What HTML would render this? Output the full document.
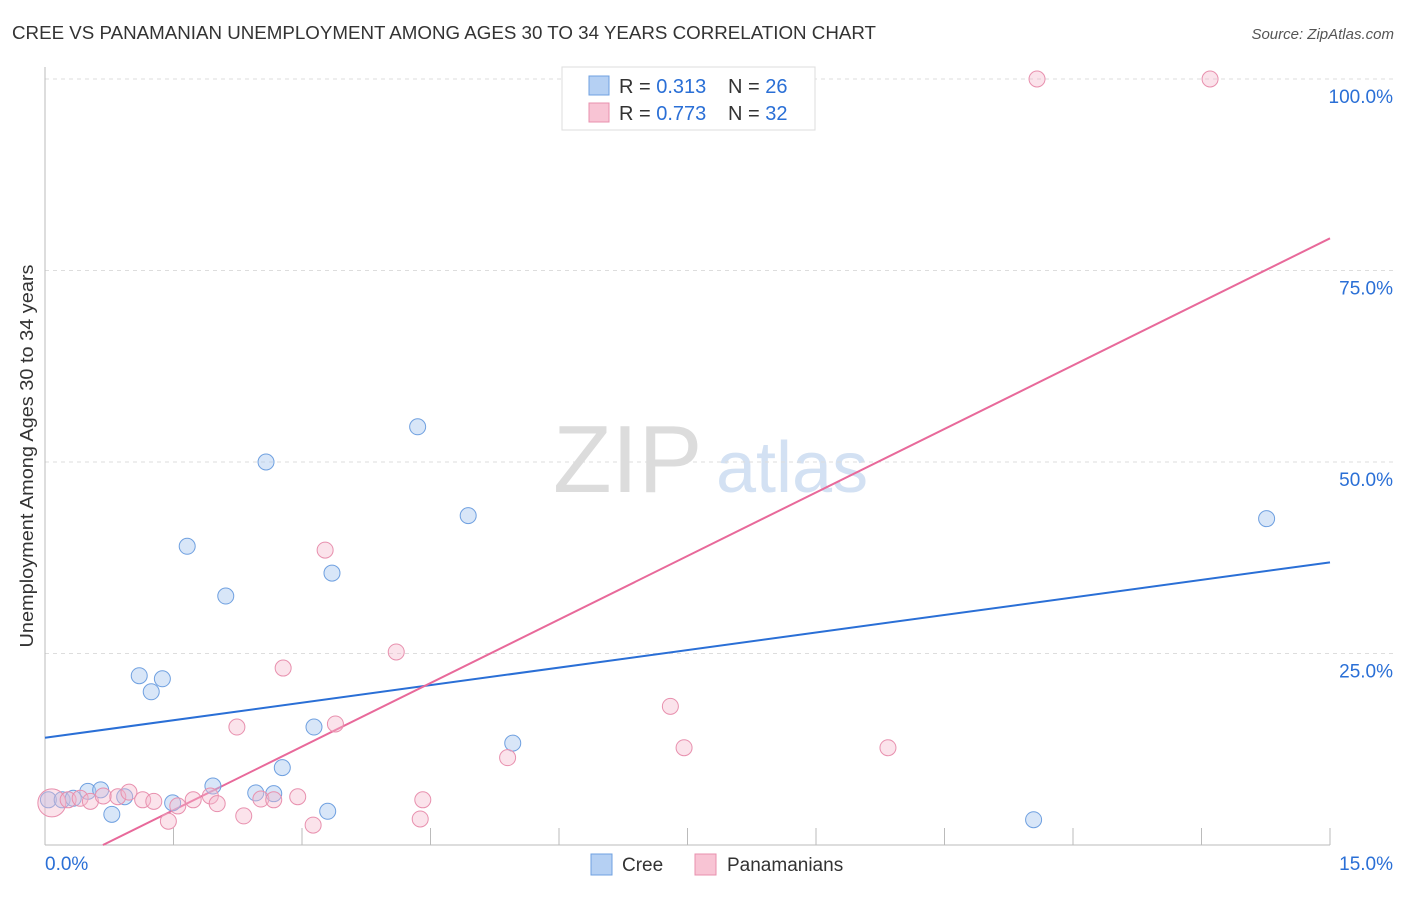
<!DOCTYPE html>
<html><head><meta charset="utf-8"><style>
body{margin:0;background:#fff;font-family:"Liberation Sans",sans-serif;}
svg text{font-family:"Liberation Sans",sans-serif;}
</style></head><body>
<svg id="chart" width="1406" height="892" xmlns="http://www.w3.org/2000/svg">
<text x="12" y="39" font-size="18" fill="#333" textLength="864" lengthAdjust="spacingAndGlyphs">CREE VS PANAMANIAN UNEMPLOYMENT AMONG AGES 30 TO 34 YEARS CORRELATION CHART</text>
<text x="1394" y="39" font-size="15" fill="#555" font-style="italic" text-anchor="end">Source: ZipAtlas.com</text>
<g>
<text x="553" y="492" font-size="96" fill="#dcdcdc" font-family="Liberation Serif,serif">ZIP</text>
<text x="716" y="492" font-size="72" fill="#d3e1f3">atlas</text>
</g>
<g id="grid"></g>
<g id="axes"></g>
<g id="lines"></g>
<g id="points"></g>
<text transform="translate(33,456) rotate(-90)" font-size="18" fill="#333" text-anchor="middle" textLength="383" lengthAdjust="spacingAndGlyphs">Unemployment Among Ages 30 to 34 years</text>
<g>
<rect x="562" y="67" width="253" height="63" fill="#fff" stroke="#ddd"/>
<rect x="589" y="76" width="20" height="19" fill="#b5d0f3" stroke="#6fa0e0"/>
<rect x="589" y="103" width="20" height="19" fill="#f8c4d4" stroke="#e890ae"/>
<text x="619" y="93" font-size="20" fill="#333">R = <tspan fill="#2a6fd6">0.313</tspan><tspan x="728">N = </tspan><tspan fill="#2a6fd6">26</tspan></text>
<text x="619" y="120" font-size="20" fill="#333">R = <tspan fill="#2a6fd6">0.773</tspan><tspan x="728">N = </tspan><tspan fill="#2a6fd6">32</tspan></text>
</g>
<g>
<rect x="591" y="854" width="21" height="21" fill="#b5d0f3" stroke="#6fa0e0"/>
<text x="622" y="871" font-size="19" fill="#333">Cree</text>
<rect x="695" y="854" width="21" height="21" fill="#f8c4d4" stroke="#e890ae"/>
<text x="727" y="871" font-size="19" fill="#333">Panamanians</text>
</g>
</svg>
<script>
const yTicks=[25,50,75,100];
const yTickLabels=["25.0%","50.0%","75.0%","100.0%"];
const xTicks=[0,1.5,3,4.5,6,7.5,9,10.5,12,13.5,15];
const creeX=[0.04,0.20,0.33,0.50,0.65,0.78,0.93,1.10,1.24,1.37,1.49,1.66,1.96,2.11,2.46,2.58,2.67,2.77,3.14,3.30,3.35,4.35,4.94,5.46,11.54,14.26];
const creeY=[5.9,5.9,6.1,7.0,7.2,4.0,6.3,22.1,20.0,21.7,5.5,39.0,7.7,32.5,6.8,50.0,6.7,10.1,15.4,4.4,35.5,54.6,43.0,13.3,3.3,42.6];
const panX=[0.08,0.27,0.41,0.53,0.68,0.85,0.98,1.14,1.27,1.44,1.55,1.73,1.93,2.01,2.24,2.32,2.52,2.67,2.78,2.95,3.13,3.27,3.39,4.10,4.38,4.41,5.40,7.30,7.46,9.84,11.58,13.60];
const panY=[5.5,5.9,6.1,5.7,6.4,6.3,6.9,5.9,5.7,3.1,5.1,5.9,6.4,5.4,15.4,3.8,6.0,5.9,23.1,6.3,2.6,38.5,15.8,25.2,3.4,5.9,11.4,18.1,12.7,12.7,100,100];
const creeLine=[14.0,36.9];
const panLine=[-3.74,79.2];
const NS="http://www.w3.org/2000/svg";
const X0=45,X1=1330,Y0=845,Y1=79;
const sx=v=>X0+(v/15)*(X1-X0);
const sy=v=>Y0-(v/100)*(Y0-Y1);
function mk(tag,attrs,parent){const e=document.createElementNS(NS,tag);for(const k in attrs)e.setAttribute(k,attrs[k]);document.getElementById(parent).appendChild(e);return e;}
yTicks.forEach((t,i)=>{
 const g=mk('line',{x1:X0,x2:1394,y1:sy(t),y2:sy(t),stroke:'#ddd','stroke-dasharray':'4,4'},'grid');
 
 
 const l=mk('text',{x:1393,y:sy(t)+24,'font-size':19,fill:'#2a6fd6','text-anchor':'end'},'grid');
 l.textContent=yTickLabels[i];
 
 
});
const ax=mk('line',{x1:X0,x2:X0,y1:67,y2:Y0,stroke:'#bbb'},'axes');


const bx=mk('line',{x1:X0,x2:X1,y1:Y0,y2:Y0,stroke:'#bbb'},'axes');


xTicks.forEach(t=>{
 const k=mk('line',{x1:sx(t),x2:sx(t),y1:828,y2:Y0,stroke:'#bbb'},'axes');
 
 
});
const xl0=mk('text',{x:45,y:870,'font-size':19,fill:'#2a6fd6'},'axes');xl0.textContent='0.0%';


const xl1=mk('text',{x:1393,y:870,'font-size':19,fill:'#2a6fd6','text-anchor':'end'},'axes');xl1.textContent='15.0%';


creeX.forEach((x,i)=>{
 const c=mk('circle',{cx:sx(x),cy:sy(creeY[i]),r:8,fill:'rgba(169,200,240,0.45)',stroke:'#6fa0e0','stroke-width':1},'points');
 
 
});
panX.forEach((x,i)=>{
 const c=mk('circle',{cx:sx(x),cy:sy(panY[i]),r:i===0?14:8,fill:'rgba(246,184,204,0.4)',stroke:'#e890ae','stroke-width':1},'points');
 
 
});
const cl=mk('line',{x1:sx(0),y1:sy(creeLine[0]),x2:sx(15),y2:sy(creeLine[1]),stroke:'#2a6fd6','stroke-width':2},'lines');


const x0p=-panLine[0]/((panLine[1]-panLine[0])/15);
const pl=mk('line',{x1:sx(x0p),y1:sy(0),x2:sx(15),y2:sy(panLine[1]),stroke:'#e8699a','stroke-width':2},'lines');


</script>
</body></html>
